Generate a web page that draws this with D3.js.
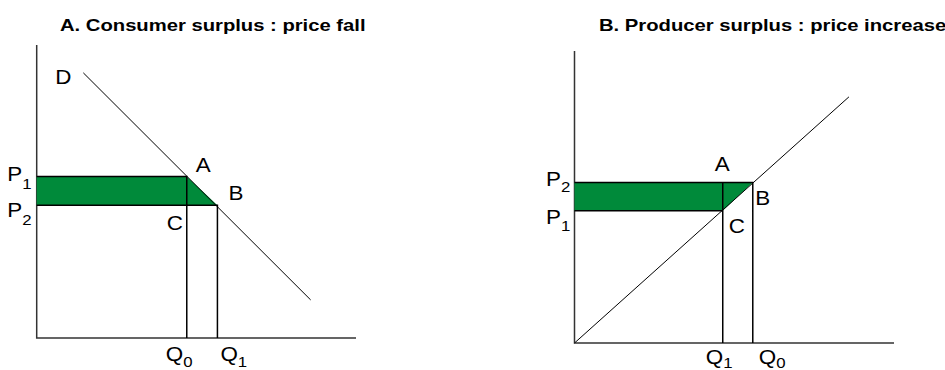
<!DOCTYPE html>
<html>
<head>
<meta charset="utf-8">
<script src="https://d3js.org/d3.v7.min.js"></script>
<style>
  body { margin: 0; background: #fff; }
  text { font-family: "Liberation Sans", Arial, sans-serif; fill: #000; }
</style>
</head>
<body>
<div id="chart"></div>
<script>
// values (both panels use a 0..10 quantity / price grid)
var panelATitle = "A. Consumer surplus : price fall"
var panelAQ = [4.70, 5.66]          // Q0, Q1
var panelAP = [5.51, 4.53]          // P1, P2
var demandLine = [[1.46, 9.05], [8.58, 1.30]]

var panelBTitle = "B. Producer surplus : price increase"
var panelBQ = [4.64, 5.58]          // Q1, Q0
var panelBP = [4.53, 5.50]          // P1, P2
var supplyLine = [[0, 0], [8.59, 8.43]]

var svg = d3.select("#chart").append("svg")
    .attr("width", 945)
    .attr("height", 370)

var green = "#008a3a"

// helper for a stretched label, optional subscript
function label(g, x, y, txt, sub, subDy) {
    var t = g.append("text")
        .attr("transform", "translate(" + x + "," + y + ") scale(1.12,1)")
        .style("font-size", "20px")
        .text(txt)
    if (sub != null) {
        t.append("tspan")
            .attr("dy", subDy)
            .style("font-size", "15px")
            .text(sub)
    }
    return t
}

function title(x, txt) {
    svg.append("text")
        .attr("transform", "translate(" + x + ",31) scale(1.19,1)")
        .style("font-size", "17px")
        .style("font-weight", "bold")
        .text(txt)
}

function axes(g, x, y) {
    var line = d3.line().x(function(d) { return x(d[0]) }).y(function(d) { return y(d[1]) })
    g.append("path")
        .attr("d", line([[0, 10], [0, 0], [10, 0]]))
        .attr("fill", "none")
        .attr("stroke", "#333")
        .attr("stroke-width", 1.5)
    return line
}

// ---------- panel A ----------
var xA = d3.scaleLinear().domain([0, 10]).range([36.7, 356])
var yA = d3.scaleLinear().domain([0, 10]).range([338, 45])
var gA = svg.append("g")
var lineA = axes(gA, xA, yA)
var q0 = panelAQ[0], q1 = panelAQ[1], p1 = panelAP[0], p2 = panelAP[1]

gA.append("path")
    .attr("d", lineA([[0, p1], [q0, p1], [q1, p2], [0, p2]]) + "Z")
    .attr("fill", green)

gA.append("path")
    .attr("d", lineA([[0, p1], [q0, p1], [q0, 0]]) + lineA([[0, p2], [q1, p2], [q1, 0]]) + lineA([[q0, p2], [q0, p1]]))
    .attr("fill", "none")
    .attr("stroke", "#000")
    .attr("stroke-width", 1.5)

gA.append("path")
    .attr("d", lineA(demandLine))
    .attr("stroke", "#000")
    .attr("stroke-width", 1)

title(60, panelATitle)
label(gA, xA(demandLine[0][0]) - 28, yA(demandLine[0][1]) + 11.5, "D")
label(gA, xA(q0) + 9, yA(p1) - 5, "A")
label(gA, xA(q1) + 11, yA(p2) - 5, "B")
label(gA, xA(q0) - 20, yA(p2) + 25, "C")
label(gA, xA(0) - 29.5, yA(p1) + 4, "P", "1", 8.5)
label(gA, xA(0) - 29.5, yA(p2) + 11.5, "P", "2", 8)
label(gA, xA(q0) - 21, 361, "Q", "0", 6)
label(gA, xA(q1) + 3, 361, "Q", "1", 6)

// ---------- panel B ----------
var xB = d3.scaleLinear().domain([0, 10]).range([574.5, 894])
var yB = d3.scaleLinear().domain([0, 10]).range([343, 51])
var gB = svg.append("g")
var lineB = axes(gB, xB, yB)
var bq1 = panelBQ[0], bq0 = panelBQ[1], bp1 = panelBP[0], bp2 = panelBP[1]

gB.append("path")
    .attr("d", lineB([[0, bp2], [bq0, bp2], [bq1, bp1], [0, bp1]]) + "Z")
    .attr("fill", green)

gB.append("path")
    .attr("d", lineB([[0, bp2], [bq0, bp2], [bq0, 0]]) + lineB([[0, bp1], [bq1, bp1], [bq1, 0]]) + lineB([[bq1, bp1], [bq1, bp2]]))
    .attr("fill", "none")
    .attr("stroke", "#000")
    .attr("stroke-width", 1.5)

gB.append("path")
    .attr("d", lineB(supplyLine))
    .attr("stroke", "#000")
    .attr("stroke-width", 1)

title(599, panelBTitle)
label(gB, xB(bq1) - 8, yB(bp2) - 11.5, "A")
label(gB, xB(bq0) + 2.5, yB(bp2) + 22.5, "B")
label(gB, xB(bq1) + 6, yB(bp1) + 22, "C")
label(gB, xB(0) - 28.5, yB(bp2) + 3.5, "P", "2", 6.5)
label(gB, xB(0) - 28.5, yB(bp1) + 13, "P", "1", 7)
label(gB, xB(bq1) - 17, 363.5, "Q", "1", 4.5)
label(gB, xB(bq0) + 6, 363.5, "Q", "0", 4.5)
</script>
</body>
</html>
